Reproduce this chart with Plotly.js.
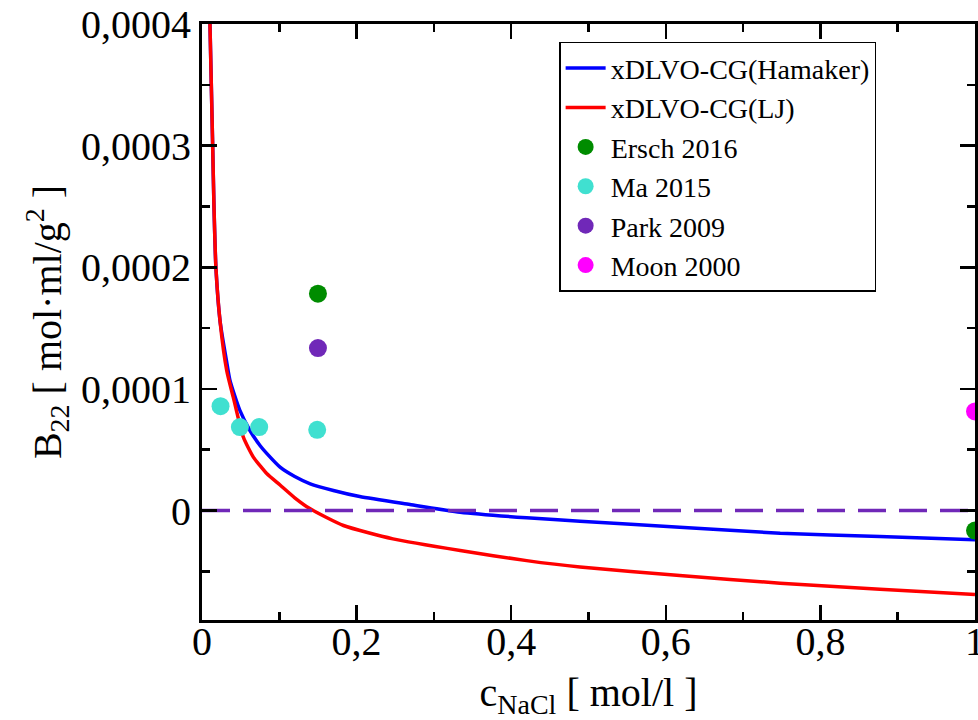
<!DOCTYPE html>
<html><head><meta charset="utf-8">
<script src="https://cdn.plot.ly/plotly-3.0.1.min.js"></script>
<style>html,body{margin:0;padding:0;background:#fff}#chart{width:978px;height:720px}</style>
</head><body><div id="chart"></div>
<script>
// xDLVO-CG (Hamaker) curve
const hamakerX = [0.0103, 0.0138, 0.0155, 0.018, 0.0235, 0.0325, 0.0362, 0.049, 0.062, 0.075, 0.0837, 0.101, 0.12, 0.140, 0.17, 0.204, 0.269, 0.334, 0.42, 0.489, 0.618, 0.748, 0.877, 1.0];
const hamakerY = [0.0004, 0.0003, 0.00025, 0.0002, 0.000155, 0.00012, 0.000107, 0.0000823, 0.0000658, 0.0000535, 0.0000470, 0.0000357, 0.0000280, 0.000022, 0.0000165, 0.0000115, 0.0000049, -0.0000014, -0.000006, -0.0000088, -0.0000137, -0.0000187, -0.0000214, -0.0000241];
// xDLVO-CG (LJ) curve
const ljX = [0.0103, 0.0138, 0.0155, 0.018, 0.0233, 0.032, 0.0405, 0.0535, 0.0664, 0.075, 0.0837, 0.101, 0.120, 0.140, 0.183, 0.247, 0.334, 0.42, 0.489, 0.618, 0.748, 0.877, 1.0];
const ljY = [0.0004, 0.0003, 0.00025, 0.0002, 0.000156, 0.000115, 0.000093, 0.0000603, 0.0000439, 0.0000370, 0.0000305, 0.000021, 0.0000105, 0.0000014, -0.0000123, -0.0000233, -0.0000329, -0.0000412, -0.0000465, -0.0000535, -0.0000597, -0.0000648, -0.0000691];
// experimental data
const erschX = [0.15, 1.0];
const erschY = [0.0001783, -0.0000165];
const maX = [0.024, 0.049, 0.074, 0.149];
const maY = [0.0000858, 0.0000686, 0.0000686, 0.0000664];
const parkX = [0.15];
const parkY = [0.0001336];
const moonX = [1.0];
const moonY = [0.0000815];
// zero reference line
const zeroX = [0, 1];
const zeroY = [0, 0];
// names
const seriesNames = ['xDLVO-CG(Hamaker)', 'xDLVO-CG(LJ)', 'Ersch 2016', 'Ma 2015', 'Park 2009', 'Moon 2000'];

const FONT = '"Liberation Serif", "Times New Roman", Times, serif';
const purple = 'rgb(112,40,184)';

const traces = [
  {x: hamakerX, y: hamakerY, mode: 'lines', name: seriesNames[0], line: {color: '#0000ff', width: 3.5, shape: 'spline', smoothing: 0.6}},
  {x: ljX, y: ljY, mode: 'lines', name: seriesNames[1], line: {color: '#ff0000', width: 3.5, shape: 'spline', smoothing: 0.6}},
  {x: zeroX, y: zeroY, mode: 'lines', showlegend: false, line: {color: purple, width: 3.5, dash: '28px,13px'}},
  {x: erschX, y: erschY, mode: 'markers', name: seriesNames[2], marker: {color: 'rgb(0,140,0)', size: 18}},
  {x: maX, y: maY, mode: 'markers', name: seriesNames[3], marker: {color: 'rgb(64,224,208)', size: 18}},
  {x: parkX, y: parkY, mode: 'markers', name: seriesNames[4], marker: {color: purple, size: 18}},
  {x: moonX, y: moonY, mode: 'markers', name: seriesNames[5], marker: {color: '#ff00ff', size: 18}}
];

const axisCommon = {
  showline: true, linecolor: '#000', linewidth: 3, mirror: 'allticks',
  ticks: 'inside', tickcolor: '#000', tickwidth: 2.5, ticklen: 15,
  showgrid: false, zeroline: false, ticklabeloverflow: 'allow',
  tickfont: {family: FONT, size: 40, color: '#000'}
};

const layout = {
  width: 978, height: 720,
  margin: {l: 202, r: 3, t: 24, b: 100},
  paper_bgcolor: '#fff', plot_bgcolor: '#fff',
  separators: ',.',
  font: {family: FONT, color: '#000'},
  showlegend: true,
  legend: {
    x: 0.462, y: 0.97, xanchor: 'left', yanchor: 'top',
    bgcolor: '#fff', bordercolor: '#000', borderwidth: 1.5,
    font: {family: FONT, size: 28, color: '#000'},
    itemwidth: 40, tracegroupgap: 0
  },
  xaxis: Object.assign({}, axisCommon, {
    range: [0, 1], tick0: 0, dtick: 0.2, tickformat: '~g', ticklabelstandoff: -16,
    minor: {ticks: 'inside', ticklen: 8, tickwidth: 2.5, tickcolor: '#000', dtick: 0.1, showgrid: false},
    title: {text: 'c<sub>NaCl</sub> [ mol/l ]', font: {family: FONT, size: 40, color: '#000'}, standoff: 20}
  }),
  yaxis: Object.assign({}, axisCommon, {
    range: [-0.00009, 0.0004], tick0: 0, dtick: 0.0001, tickformat: '.4~f',
    minor: {ticks: 'inside', ticklen: 8, tickwidth: 2.5, tickcolor: '#000', dtick: 0.00005, showgrid: false},
    title: {text: 'B<sub>22</sub> [ mol·ml/g<sup>2</sup> ]', font: {family: FONT, size: 40, color: '#000'}, standoff: 8}
  })
};

Plotly.newPlot('chart', traces, layout, {displayModeBar: false, staticPlot: true});
</script>
</body></html>
